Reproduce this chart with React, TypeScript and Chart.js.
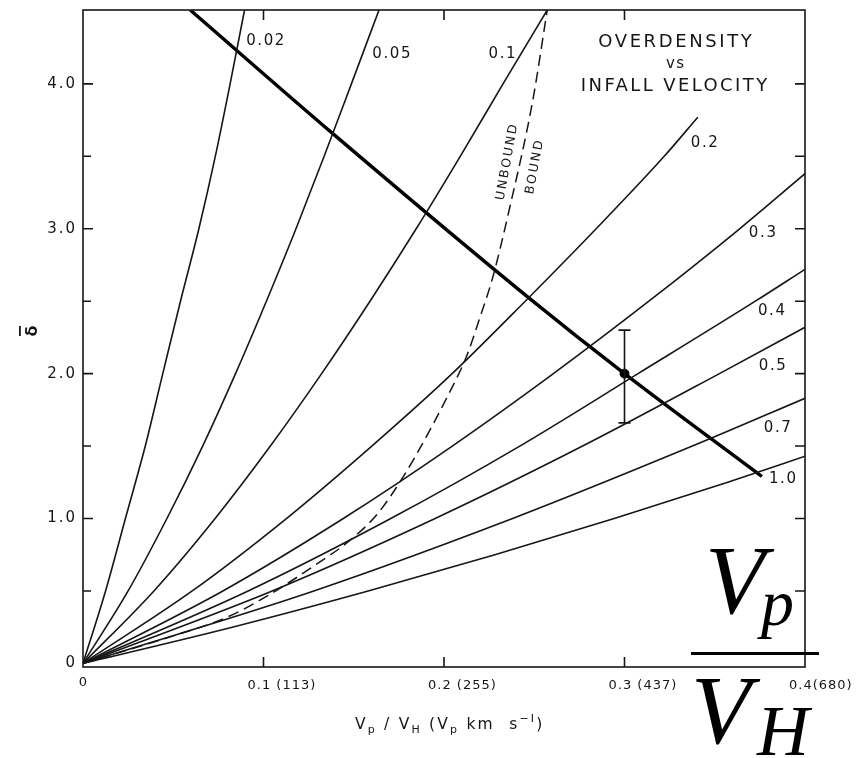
import React, { useEffect, useRef } from "react";
import { Chart, registerables } from "chart.js";

Chart.register(...registerables);

// ---- data (x = Vp/VH, y = overdensity delta) ----
const d02 = [0, 0.5, 1, 1.5, 2, 2.5, 3, 3.5, 4, 4.51];
const x02 = [0, 0.0125, 0.0235, 0.0345, 0.0442, 0.054, 0.0642, 0.0733, 0.0815, 0.0895];

const d05 = [0, 0.5, 1, 1.5, 2, 2.5, 3, 3.5, 4, 4.51];
const x05 = [0, 0.025, 0.0465, 0.0663, 0.0845, 0.1016, 0.118, 0.1336, 0.1487, 0.164];

const d10 = [0, 0.5, 1, 1.5, 2, 2.5, 3, 3.5, 4, 4.51];
const x10 = [0, 0.0393, 0.0732, 0.1038, 0.1322, 0.159, 0.1846, 0.209, 0.2327, 0.2572];

const d20 = [0, 0.5, 1, 1.5, 2, 2.5, 3, 3.5, 3.77];
const x20 = [0, 0.0605, 0.1127, 0.16, 0.2045, 0.245, 0.2843, 0.322, 0.3406];

const d30 = [0, 0.5, 1, 1.5, 2, 2.5, 3, 3.38];
const x30 = [0, 0.0775, 0.1442, 0.2046, 0.2606, 0.3135, 0.3638, 0.4];

const d40 = [0, 0.5, 1, 1.5, 2, 2.5, 2.72];
const x40 = [0, 0.0915, 0.1705, 0.242, 0.3075, 0.3725, 0.4];

const d50 = [0, 0.5, 1, 1.5, 2, 2.32];
const x50 = [0, 0.1048, 0.1951, 0.2768, 0.3526, 0.4];

const d70 = [0, 0.5, 1, 1.5, 1.83];
const x70 = [0, 0.1279, 0.238, 0.3376, 0.4];

const d100 = [0, 0.25, 0.5, 0.75, 1, 1.25, 1.43];
const x100 = [0, 0.0827, 0.158, 0.2282, 0.2943, 0.3572, 0.4];

const curveNames = ["0.02", "0.05", "0.1", "0.2", "0.3", "0.4", "0.5", "0.7", "1.0"];

// heavy curve
const thickX = [0.0594, 0.1381, 0.2463, 0.3, 0.3761];
const thickY = [4.51, 3.66, 2.53, 2.0, 1.29];

// unbound / bound boundary (dashed)
const boundX = [0, 0.05, 0.08, 0.1, 0.13, 0.148, 0.163, 0.177, 0.19, 0.2014, 0.2125, 0.2197, 0.2269, 0.2363, 0.2491, 0.2572];
const boundY = [0, 0.19, 0.32, 0.45, 0.69, 0.85, 1.03, 1.28, 1.56, 1.83, 2.12, 2.38, 2.66, 3.14, 3.88, 4.51];

// observed point with error bar
const obsX = [0.3];
const obsY = [2.0];
const obsLow = [1.66];
const obsHigh = [2.3];

// axes
const yTickValues = [0, 0.5, 1, 1.5, 2, 2.5, 3, 3.5, 4];
const yTickLabels = ["0", "", "1.0", "", "2.0", "", "3.0", "", "4.0"];
const xTickValues = [0, 0.1, 0.2, 0.3, 0.4];
const xTickLabels = ["0", "0.1 (113)", "0.2 (255)", "0.3 (437)", "0.4(680)"];

// label anchors (data coordinates) for the curve names
const nameAnchorX = [0.0904, 0.1603, 0.2247, 0.3367, 0.3689, 0.3739, 0.3744, 0.3772, 0.38];
const nameAnchorY = [4.293, 4.204, 4.204, 3.591, 2.971, 2.434, 2.055, 1.621, 1.27];

const INK = "#161616";
const SANS = "'DejaVu Sans', sans-serif";

function pts(xs: number[], ys: number[]) {
  return xs.map((x, i) => ({ x, y: ys[i] }));
}

function spaced(ctx: CanvasRenderingContext2D, s: string, x: number, y: number, font: string, align: CanvasTextAlign, spacing: number) {
  ctx.font = font;
  (ctx as any).letterSpacing = spacing + "px";
  const w = ctx.measureText(s).width - spacing;
  let sx = x;
  if (align === "center") sx = x - w / 2;
  else if (align === "right") sx = x - w;
  ctx.textAlign = "left";
  ctx.fillText(s, sx, y);
  (ctx as any).letterSpacing = "0px";
  return w;
}

const decor = {
  id: "decor",
  afterDatasetsDraw(chart: any) {
    const { ctx, chartArea: a } = chart;
    const x = chart.scales.x;
    const y = chart.scales.y;
    ctx.save();
    ctx.strokeStyle = INK;
    ctx.lineWidth = 1.6;
    ctx.strokeRect(a.left, a.top, a.right - a.left, a.bottom - a.top);
    ctx.beginPath();
    yTickValues.forEach((v) => {
      const py = y.getPixelForValue(v);
      if (v > 0) {
        ctx.moveTo(a.left, py);
        ctx.lineTo(a.left + (Number.isInteger(v) ? 10 : 8), py);
        ctx.moveTo(a.right, py);
        ctx.lineTo(a.right - 10, py);
      }
    });
    xTickValues.forEach((v) => {
      if (v <= 0 || v >= 0.4) return;
      const px = x.getPixelForValue(v);
      ctx.moveTo(px, a.bottom);
      ctx.lineTo(px, a.bottom - 10);
      ctx.moveTo(px, a.top);
      ctx.lineTo(px, a.top + 10);
    });
    ctx.stroke();

    // error bar
    ctx.lineWidth = 1.6;
    obsX.forEach((ox, i) => {
      const px = x.getPixelForValue(ox);
      const lo = y.getPixelForValue(obsLow[i]);
      const hi = y.getPixelForValue(obsHigh[i]);
      ctx.beginPath();
      ctx.moveTo(px, lo);
      ctx.lineTo(px, hi);
      ctx.moveTo(px - 6, lo);
      ctx.lineTo(px + 6, lo);
      ctx.moveTo(px - 6, hi);
      ctx.lineTo(px + 6, hi);
      ctx.stroke();
    });
    ctx.restore();
  },
  afterDraw(chart: any) {
    const { ctx, chartArea: a } = chart;
    const x = chart.scales.x;
    const y = chart.scales.y;
    ctx.save();
    ctx.fillStyle = INK;
    ctx.textBaseline = "middle";

    // y tick labels
    yTickValues.forEach((v, i) => {
      if (!yTickLabels[i]) return;
      spaced(ctx, yTickLabels[i], a.left - 8, y.getPixelForValue(v), `15px ${SANS}`, "right", 2);
    });
    // x tick labels
    xTickValues.forEach((v, i) => {
      const px = x.getPixelForValue(v);
      if (i === 0) spaced(ctx, xTickLabels[i], px, a.bottom + 16, `13px ${SANS}`, "center", 1);
      else spaced(ctx, xTickLabels[i], px - 16, a.bottom + 19, `13px ${SANS}`, "left", 1);
    });

    // x axis title with sub/superscripts
    const segs: [string, string][] = [
      ["V", "n"], ["p", "sub"], [" / ", "n"], ["V", "n"], ["H", "sub"], [" (", "n"],
      ["V", "n"], ["p", "sub"], [" km  s", "n"], ["\u2212I", "sup"], [")", "n"],
    ];
    ctx.textBaseline = "alphabetic";
    let cx = 355;
    const base = 729;
    segs.forEach(([t, k]) => {
      const font = k === "n" ? `15.5px ${SANS}` : `11px ${SANS}`;
      const dy = k === "sub" ? 4 : k === "sup" ? -7 : 0;
      cx += spaced(ctx, t, cx, base + dy, font, "left", 2.2) + 2.2;
    });

    // y axis title: delta with bar, rotated
    ctx.save();
    ctx.translate(31, 331);
    ctx.rotate(-Math.PI / 2);
    ctx.font = `bold 16px ${SANS}`;
    ctx.textAlign = "center";
    ctx.textBaseline = "alphabetic";
    ctx.fillText("\u03b4", 0, 6);
    ctx.fillRect(-5, -12, 10, 1.8);
    ctx.restore();

    // curve names
    ctx.textBaseline = "middle";
    curveNames.forEach((n, i) => {
      spaced(ctx, n, x.getPixelForValue(nameAnchorX[i]), y.getPixelForValue(nameAnchorY[i]), `15px ${SANS}`, "left", 1.6);
    });

    // title
    spaced(ctx, "OVERDENSITY", 675, 42, `18px ${SANS}`, "center", 2.6);
    spaced(ctx, "vs", 675, 64, `15px ${SANS}`, "center", 1.5);
    spaced(ctx, "INFALL VELOCITY", 674, 86, `18px ${SANS}`, "center", 2.4);

    // unbound / bound along dashed line
    ctx.save();
    ctx.translate(521, 165);
    ctx.rotate((-79.6 * Math.PI) / 180);
    spaced(ctx, "UNBOUND", 0, -14, `12.5px ${SANS}`, "center", 2);
    spaced(ctx, "BOUND", 0, 14, `12.5px ${SANS}`, "center", 2);
    ctx.restore();

    // big fraction Vp / VH
    ctx.fillStyle = "#000";
    ctx.textBaseline = "alphabetic";
    ctx.textAlign = "left";
    const serif = "'Liberation Serif', 'DejaVu Serif', serif";
    ctx.font = `italic 98px ${serif}`;
    ctx.fillText("V", 705, 613);
    ctx.font = `italic 66px ${serif}`;
    ctx.fillText("p", 761, 625);
    ctx.fillRect(691, 652, 128, 3);
    ctx.font = `italic 98px ${serif}`;
    ctx.fillText("V", 691, 743);
    ctx.font = `italic 72px ${serif}`;
    ctx.fillText("H", 757, 755);

    ctx.restore();
  },
};

export default function App() {
  const ref = useRef<HTMLCanvasElement | null>(null);
  useEffect(() => {
    if (!ref.current) return;
    const thin = (xs: number[], ys: number[], label: string) => ({
      label,
      data: pts(xs, ys),
      showLine: true,
      borderColor: INK,
      borderWidth: 1.6,
      pointRadius: 0,
      cubicInterpolationMode: "monotone",
      fill: false,
    });
    const datasets: any[] = [
      thin(x02, d02, curveNames[0]),
      thin(x05, d05, curveNames[1]),
      thin(x10, d10, curveNames[2]),
      thin(x20, d20, curveNames[3]),
      thin(x30, d30, curveNames[4]),
      thin(x40, d40, curveNames[5]),
      thin(x50, d50, curveNames[6]),
      thin(x70, d70, curveNames[7]),
      thin(x100, d100, curveNames[8]),
      {
        label: "heavy",
        data: pts(thickX, thickY),
        showLine: true,
        borderColor: "#000",
        borderWidth: 3.4,
        pointRadius: 0,
        cubicInterpolationMode: "monotone",
      },
      {
        label: "unbound/bound",
        data: pts(boundX, boundY),
        showLine: true,
        borderColor: INK,
        borderWidth: 1.5,
        borderDash: [11, 6],
        pointRadius: 0,
        cubicInterpolationMode: "monotone",
      },
      {
        label: "observed",
        data: pts(obsX, obsY),
        showLine: false,
        pointRadius: 4.5,
        pointBackgroundColor: "#000",
        pointBorderColor: "#000",
      },
    ];
    const chart = new Chart(ref.current, {
      type: "scatter",
      data: { datasets },
      options: {
        animation: false,
        responsive: false,
        events: [],
        layout: { padding: { left: 83, right: 57, top: 10, bottom: 91 } },
        plugins: { legend: { display: false }, tooltip: { enabled: false }, title: { display: false } },
        scales: {
          x: { type: "linear", min: 0, max: 0.4, display: false },
          y: { type: "linear", min: -0.025, max: 4.51, display: false },
        },
      },
      plugins: [decor],
    } as any);
    return () => chart.destroy();
  }, []);
  return (
    <div style={{ position: "absolute", left: 0, top: 0, width: 862, height: 758, background: "#fff" }}>
      <canvas ref={ref} width={862} height={758} style={{ display: "block" }} />
    </div>
  );
}
